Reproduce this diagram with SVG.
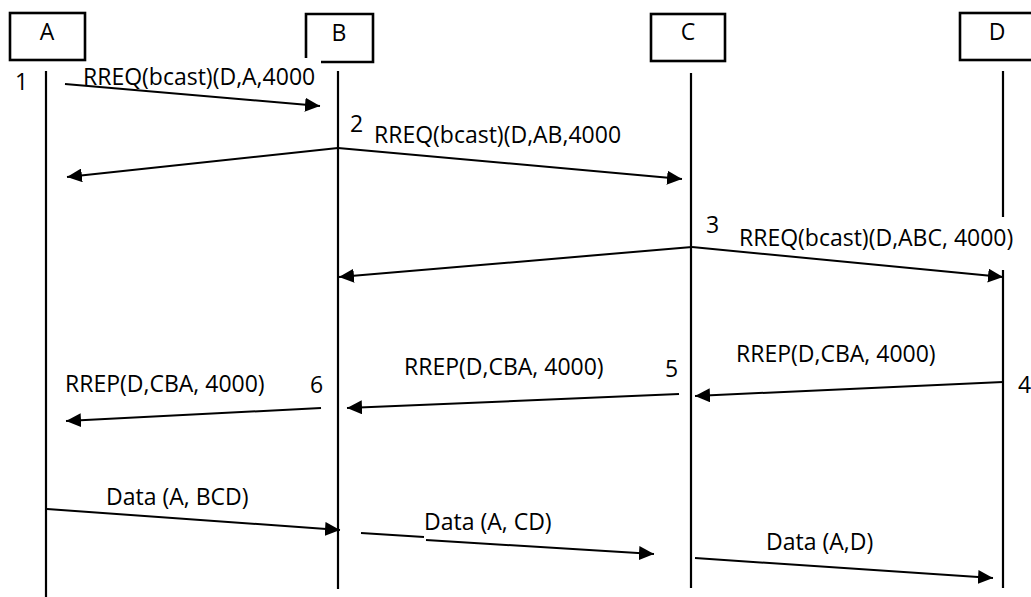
<svg xmlns="http://www.w3.org/2000/svg" width="1031" height="597" viewBox="0 0 1031 597">
  <style>
    text { font-family: "Open Sans", "Liberation Sans", sans-serif; font-size: 23px; fill: #000; }
    .box { fill: #fff; stroke: #000; stroke-width: 2.6; }
    .life { stroke: #000; stroke-width: 2.2; fill: none; }
    .msg { stroke: #000; stroke-width: 2; fill: none; marker-end: url(#arrow); }
    .plain { stroke: #000; stroke-width: 2; fill: none; }
  </style>
  <defs>
    <marker id="arrow" markerUnits="userSpaceOnUse" markerWidth="16" markerHeight="14" refX="15" refY="7" orient="auto">
      <path d="M0,0 L15,7 L0,14 Z" fill="#000"/>
    </marker>
  </defs>
  <rect width="1031" height="597" fill="#fff"/>

  <!-- participants -->
  <g id="node-A">
    <rect class="box" x="10" y="13" width="75" height="47"/>
    <text x="47" y="40" text-anchor="middle">A</text>
    <line class="life" x1="46" y1="71" x2="46" y2="597"/>
  </g>
  <g id="node-B">
    <path class="box" d="M306,58 V14 H373 V62 H321" fill="none"/>
    <text x="339" y="41" text-anchor="middle">B</text>
    <line class="life" x1="338" y1="71" x2="338" y2="589"/>
  </g>
  <g id="node-C">
    <rect class="box" x="651" y="14" width="74" height="47"/>
    <text x="688" y="40" text-anchor="middle">C</text>
    <line class="life" x1="691" y1="73" x2="691" y2="588"/>
  </g>
  <g id="node-D">
    <rect class="box" x="960" y="13" width="90" height="47"/>
    <text x="997" y="40" text-anchor="middle">D</text>
    <line class="life" x1="1003" y1="71" x2="1003" y2="217"/>
    <line class="life" x1="1003" y1="270" x2="1003" y2="588"/>
  </g>

  <!-- messages -->
  <g id="connectors">
    <line class="msg" x1="65" y1="84" x2="320" y2="106"/>
    <line class="msg" x1="338" y1="148" x2="67" y2="177"/>
    <line class="msg" x1="338" y1="148" x2="682" y2="179"/>
    <line class="msg" x1="692" y1="247" x2="339" y2="277"/>
    <line class="msg" x1="692" y1="247" x2="1003" y2="277"/>
    <line class="msg" x1="1003" y1="382" x2="695" y2="396"/>
    <line class="msg" x1="679" y1="394" x2="347" y2="408"/>
    <line class="msg" x1="321" y1="408" x2="66" y2="421"/>
    <line class="msg" x1="47" y1="509" x2="340" y2="530"/>
    <line class="plain" x1="361" y1="533" x2="424" y2="537"/>
    <line class="msg" x1="426" y1="540" x2="654" y2="554"/>
    <line class="msg" x1="695" y1="558" x2="993" y2="578"/>
  </g>

  <!-- labels -->
  <g id="labels">
    <text x="15" y="90">1</text>
    <text x="83" y="85">RREQ(bcast)(D,A,4000</text>
    <text x="350" y="132">2</text>
    <text x="374" y="143">RREQ(bcast)(D,AB,4000</text>
    <text x="706" y="233">3</text>
    <text x="739" y="246">RREQ(bcast)(D,ABC, 4000)</text>
    <text x="736" y="362">RREP(D,CBA, 4000)</text>
    <text x="1018" y="393">4</text>
    <text x="404" y="375">RREP(D,CBA, 4000)</text>
    <text x="665" y="377">5</text>
    <text x="65" y="392">RREP(D,CBA, 4000)</text>
    <text x="310" y="393">6</text>
    <text x="106" y="505">Data (A, BCD)</text>
    <text x="424" y="530">Data (A, CD)</text>
    <text x="766" y="550">Data (A,D)</text>
  </g>
</svg>
